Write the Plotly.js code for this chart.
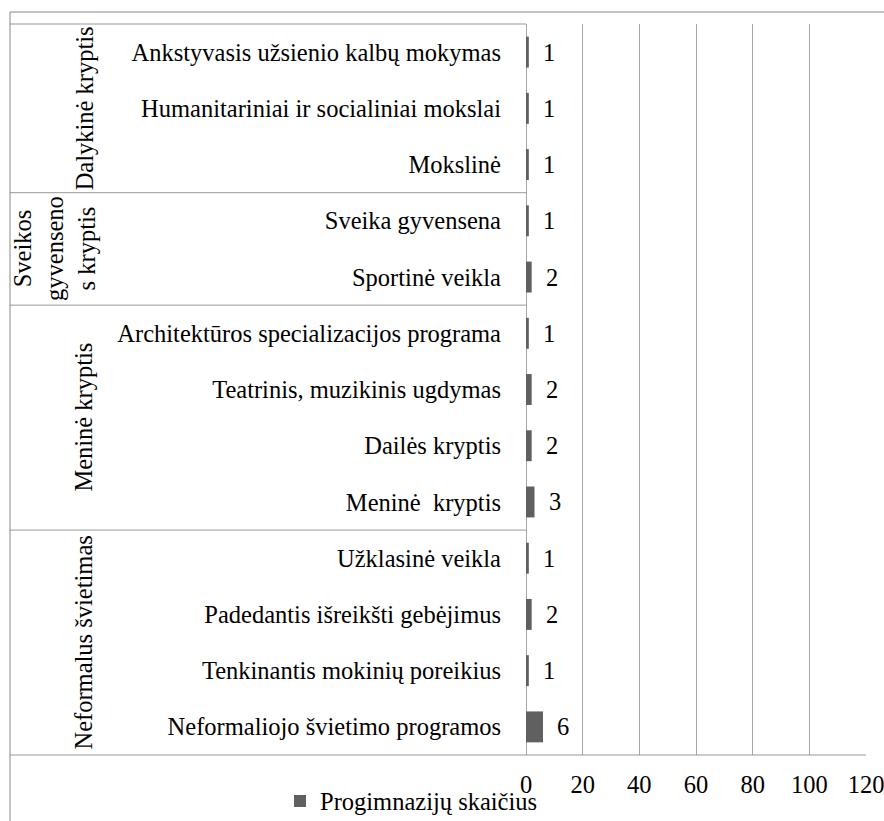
<!DOCTYPE html>
<html>
<head>
<meta charset="utf-8">
<script src="https://cdn.plot.ly/plotly-3.0.1.min.js"></script>
<style>html,body{margin:0;padding:0;background:#fff;}#chart{width:884px;height:821px;}</style>
</head>
<body>
<div id="chart"></div>
<script>
var categories = [
  "Ankstyvasis užsienio kalbų mokymas",
  "Humanitariniai ir socialiniai mokslai",
  "Mokslinė",
  "Sveika gyvensena",
  "Sportinė veikla",
  "Architektūros specializacijos programa",
  "Teatrinis, muzikinis ugdymas",
  "Dailės kryptis",
  "Meninė  kryptis",
  "Užklasinė veikla",
  "Padedantis išreikšti gebėjimus",
  "Tenkinantis mokinių poreikius",
  "Neformaliojo švietimo programos"
];
var values = [1, 1, 1, 1, 2, 1, 2, 2, 3, 1, 2, 1, 6];
var groupNames = ["Dalykinė kryptis", "Sveikos<br>gyvenseno<br>s kryptis", "Meninė kryptis", "Neformalus švietimas"];
var groupSizes = [3, 2, 4, 4];
var seriesName = "Progimnazijų skaičius";
var xTicks = [0, 20, 40, 60, 80, 100, 120];

var FONT = "Liberation Serif";
var FS = 24.5;
var LINE = "#999999";

var W = 884, H = 821, L = 526, R = 866, T = 24, B = 755;
function px(x) { return (x - L) / (R - L); }
function py(y) { return (B - y) / (B - T); }

var annotations = [];
var shapes = [];

for (var i = 0; i < categories.length; i++) {
  annotations.push({
    x: values[i], y: categories[i], xref: 'x', yref: 'y',
    text: String(values[i]), showarrow: false, xanchor: 'left', xshift: 12,
    font: {family: FONT, size: FS, color: '#000'}
  });
}

var start = 0;
for (var g = 0; g < groupNames.length; g++) {
  var end = start + groupSizes[g];
  var center = (start + end - 1) / 2;
  var lines = groupNames[g].split('<br>').length;
  annotations.push({
    x: px(lines > 1 ? 55 : 84), y: center, xref: 'paper', yref: 'y',
    text: groupNames[g], showarrow: false, textangle: -90,
    xanchor: 'center', yanchor: 'middle',
    font: {family: FONT, size: FS, color: '#000'}
  });
  if (g < groupNames.length - 1) {
    shapes.push({type: 'line', xref: 'paper', yref: 'y', x0: px(10), x1: 0,
      y0: end - 0.5, y1: end - 0.5, line: {color: LINE, width: 1}});
  }
  start = end;
}
shapes.push({type: 'line', xref: 'paper', yref: 'paper', x0: px(10), x1: 0, y0: 1, y1: 1, line: {color: LINE, width: 1}});
shapes.push({type: 'line', xref: 'paper', yref: 'paper', x0: px(10), x1: 1, y0: 0, y1: 0, line: {color: LINE, width: 1}});
shapes.push({type: 'line', xref: 'paper', yref: 'paper', x0: px(10), x1: px(884), y0: py(12), y1: py(12), line: {color: '#888', width: 1}});
shapes.push({type: 'line', xref: 'paper', yref: 'paper', x0: px(10), x1: px(10), y0: py(12), y1: py(821), line: {color: '#888', width: 1}});

var trace = {
  type: 'bar', orientation: 'h',
  x: values, y: categories, name: seriesName,
  width: 0.55,
  marker: {color: '#606060', line: {width: 0}},
  hoverinfo: 'none',
  showlegend: true
};

var layout = {
  width: W, height: H,
  margin: {l: L, r: W - R, t: T, b: H - B, pad: 0, autoexpand: false},
  paper_bgcolor: '#fff', plot_bgcolor: '#fff',
  font: {family: FONT, size: FS, color: '#000'},
  showlegend: true,
  legend: {orientation: 'h', x: px(280), y: py(801), xanchor: 'left', yanchor: 'middle',
    font: {family: FONT, size: FS, color: '#000'}, bgcolor: 'rgba(0,0,0,0)', itemwidth: 30},
  xaxis: {
    range: [0, 120], tickvals: xTicks, ticktext: xTicks.map(String),
    showgrid: true, gridcolor: '#a6a6a6', gridwidth: 1,
    zeroline: true, zerolinecolor: '#a6a6a6', zerolinewidth: 1,
    showline: false, ticks: '', ticklabelstandoff: 12, ticklabeloverflow: 'allow',
    tickfont: {family: FONT, size: FS, color: '#000'}, fixedrange: true
  },
  yaxis: {
    type: 'category', categoryorder: 'array', categoryarray: categories,
    autorange: 'reversed', showgrid: false, zeroline: false, showline: false,
    ticks: '', ticklabelstandoff: 24, ticklabeloverflow: 'allow',
    tickfont: {family: FONT, size: FS, color: '#000'}, fixedrange: true
  },
  annotations: annotations,
  shapes: shapes
};

Plotly.newPlot('chart', [trace], layout, {displayModeBar: false, staticPlot: true});
</script>
</body>
</html>
